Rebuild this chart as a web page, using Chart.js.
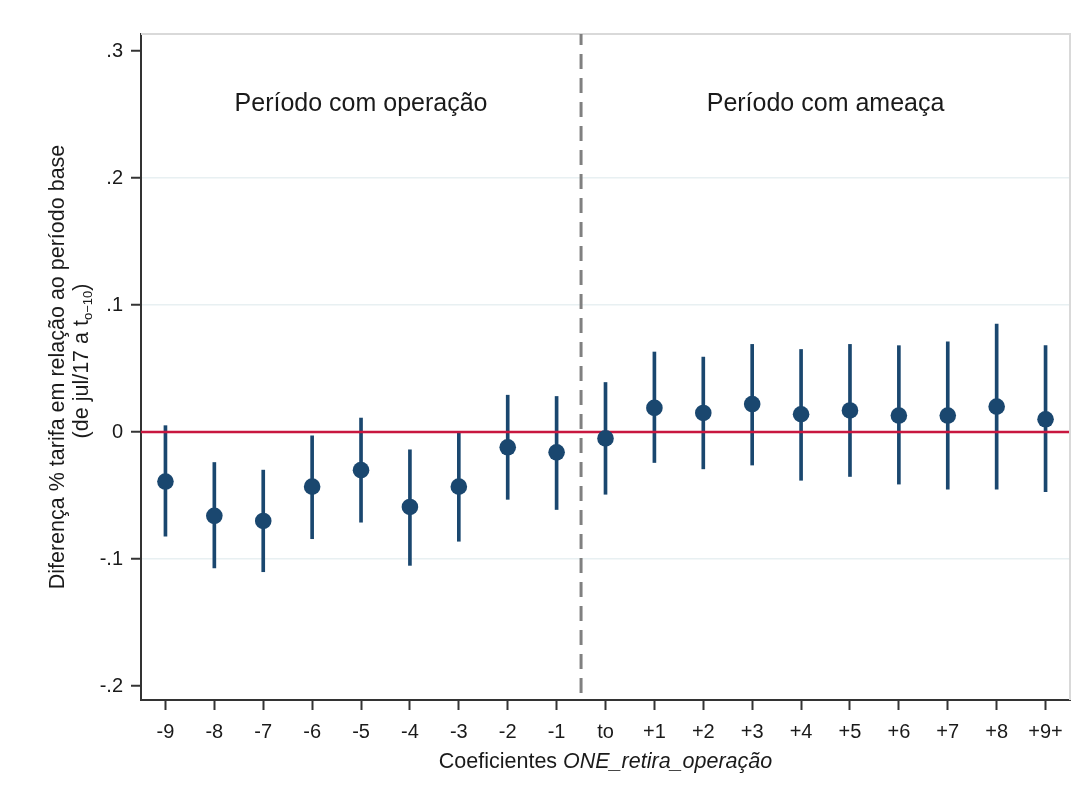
<!DOCTYPE html>
<html>
<head>
<meta charset="utf-8">
<script src="https://cdn.jsdelivr.net/npm/chart.js@4/dist/chart.umd.min.js"></script>
<style>
  html, body { margin: 0; padding: 0; background: #ffffff; }
  #wrap { width: 1091px; height: 792px; }
</style>
</head>
<body>
<div id="wrap"><canvas id="c" width="1091" height="792"></canvas></div>
<script>
// ---- data ----
const categories = ['-9','-8','-7','-6','-5','-4','-3','-2','-1','to','+1','+2','+3','+4','+5','+6','+7','+8','+9+'];
const coef   = [-0.039,-0.066,-0.070,-0.043,-0.030,-0.059,-0.043,-0.012,-0.016,-0.005,0.019,0.015,0.022,0.014,0.017,0.013,0.013,0.020,0.010];
const ciLow  = [-0.082,-0.107,-0.110,-0.084,-0.071,-0.105,-0.086,-0.053,-0.061,-0.049,-0.024,-0.029,-0.026,-0.038,-0.035,-0.041,-0.045,-0.045,-0.047];
const ciHigh = [0.005,-0.024,-0.030,-0.003,0.011,-0.014,-0.001,0.029,0.028,0.039,0.063,0.059,0.069,0.065,0.069,0.068,0.071,0.085,0.068];
const yTicks = [-0.2,-0.1,0,0.1,0.2,0.3];
const yTickLabels = ['-.2','-.1','0','.1','.2','.3'];
const gridValues = [-0.1,0.1,0.2];
const threatStartIndex = 9;
const periodLabels = ['Período com operação','Período com ameaça'];
const yTitleLine1 = 'Diferença % tarifa em relação ao período base';
const yTitleLine2Parts = ['(de jul/17 a t', 'o−10', ')'];
const xTitleParts = ['Coeficientes ', 'ONE_retira_operação'];

// ---- styles ----
const NAVY = '#1a476f';
const RED = '#c8173f';
const AXIS = '#333333';
const TXT = '#1a1a1a';
const FONT = '"Liberation Sans", Arial, sans-serif';

const ciPairs = ciLow.map((lo, i) => [lo, ciHigh[i]]);

const overlay = {
  id: 'overlay',
  beforeDatasetDraw(chart, args) {
    if (args.index !== 0) return;
    const ctx = chart.ctx, a = chart.chartArea, ys = chart.scales.y;
    const y0 = ys.getPixelForValue(0);
    ctx.save();
    ctx.strokeStyle = RED; ctx.lineWidth = 2.5;
    ctx.beginPath(); ctx.moveTo(a.left, y0); ctx.lineTo(a.right, y0); ctx.stroke();
    ctx.restore();
  },
  afterDraw(chart) {
    const ctx = chart.ctx, a = chart.chartArea, xs = chart.scales.x, ys = chart.scales.y;
    ctx.save();
    // top & right frame
    ctx.strokeStyle = '#d9d9d9'; ctx.lineWidth = 2;
    ctx.beginPath(); ctx.moveTo(a.left, a.top); ctx.lineTo(a.right, a.top); ctx.lineTo(a.right, a.bottom); ctx.stroke();
    // dashed separator
    const xd = (xs.getPixelForValue(threatStartIndex - 1) + xs.getPixelForValue(threatStartIndex)) / 2;
    ctx.strokeStyle = '#808080'; ctx.lineWidth = 3; ctx.setLineDash([15, 9]); ctx.lineDashOffset = 4;
    ctx.beginPath(); ctx.moveTo(xd, a.top); ctx.lineTo(xd, a.bottom); ctx.stroke();
    ctx.setLineDash([]);
    // period labels
    ctx.fillStyle = TXT; ctx.font = '25px ' + FONT; ctx.textAlign = 'center'; ctx.textBaseline = 'alphabetic';
    const yl = ys.getPixelForValue(0.2525);
    const c1 = (xs.getPixelForValue(0) + xs.getPixelForValue(threatStartIndex - 1)) / 2;
    const c2 = (xs.getPixelForValue(threatStartIndex) + xs.getPixelForValue(categories.length - 1)) / 2;
    ctx.fillText(periodLabels[0], c1, yl);
    ctx.fillText(periodLabels[1], c2, yl);
    // x title
    const fN = '21.5px ' + FONT, fI = 'italic 21.5px ' + FONT;
    ctx.font = fN; const w1 = ctx.measureText(xTitleParts[0]).width;
    ctx.font = fI; const w2 = ctx.measureText(xTitleParts[1]).width;
    const cx = (a.left + a.right) / 2;
    let sx = cx - (w1 + w2) / 2;
    ctx.textAlign = 'left';
    ctx.font = fN; ctx.fillText(xTitleParts[0], sx, 768);
    ctx.font = fI; ctx.fillText(xTitleParts[1], sx + w1, 768);
    // y title
    const cy = (a.top + a.bottom) / 2;
    ctx.save();
    ctx.translate(64, cy); ctx.rotate(-Math.PI / 2);
    ctx.font = fN; ctx.textAlign = 'center';
    ctx.fillText(yTitleLine1, 0, 0);
    ctx.restore();
    ctx.save();
    ctx.translate(88, cy - 6); ctx.rotate(-Math.PI / 2);
    const fS = '13px ' + FONT;
    ctx.font = fN; const p0 = ctx.measureText(yTitleLine2Parts[0]).width;
    ctx.font = fS; const p1 = ctx.measureText(yTitleLine2Parts[1]).width;
    ctx.font = fN; const p2 = ctx.measureText(yTitleLine2Parts[2]).width;
    let tx = -(p0 + p1 + p2) / 2;
    ctx.textAlign = 'left';
    ctx.font = fN; ctx.fillText(yTitleLine2Parts[0], tx, 0); tx += p0;
    ctx.font = fS; ctx.fillText(yTitleLine2Parts[1], tx, 4); tx += p1;
    ctx.font = fN; ctx.fillText(yTitleLine2Parts[2], tx, 0);
    ctx.restore();
    ctx.restore();
  }
};

new Chart(document.getElementById('c'), {
  type: 'bar',
  data: {
    labels: categories,
    datasets: [
      {
        type: 'line',
        data: coef,
        showLine: false,
        pointRadius: 8.3,
        pointHoverRadius: 8.3,
        pointBackgroundColor: NAVY,
        pointBorderWidth: 0,
        borderColor: NAVY
      },
      {
        type: 'bar',
        data: ciPairs,
        backgroundColor: NAVY,
        borderWidth: 0,
        barThickness: 3,
        borderSkipped: false
      }
    ]
  },
  options: {
    responsive: false,
    animation: false,
    devicePixelRatio: 1,
    layout: { padding: { left: 0, top: 34, right: 21, bottom: 0 } },
    plugins: { legend: { display: false }, tooltip: { enabled: false } },
    scales: {
      x: {
        offset: true,
        afterFit(s) { s.height = 92; },
        border: { display: true, color: AXIS, width: 2 },
        grid: { offset: false, drawOnChartArea: false, drawTicks: true, tickLength: 10, tickColor: AXIS, tickWidth: 2 },
        ticks: { color: TXT, font: { family: FONT, size: 20 }, padding: 10, maxRotation: 0, autoSkip: false }
      },
      y: {
        min: -0.211,
        max: 0.3134,
        afterFit(s) { s.width = 141; },
        afterBuildTicks(s) { s.ticks = yTicks.map(v => ({ value: v })); },
        border: { display: true, color: AXIS, width: 2 },
        grid: {
          drawTicks: true, tickLength: 10, tickColor: AXIS, tickWidth: 2,
          color: (c) => (c.tick && gridValues.some(g => Math.abs(g - c.tick.value) < 1e-9)) ? '#e8f0f2' : 'rgba(0,0,0,0)',
          lineWidth: 1.5
        },
        ticks: {
          color: TXT, font: { family: FONT, size: 20 }, padding: 8,
          callback: (v) => { const i = yTicks.findIndex(t => Math.abs(t - v) < 1e-9); return i >= 0 ? yTickLabels[i] : ''; }
        }
      }
    }
  },
  plugins: [overlay]
});
</script>
</body>
</html>
